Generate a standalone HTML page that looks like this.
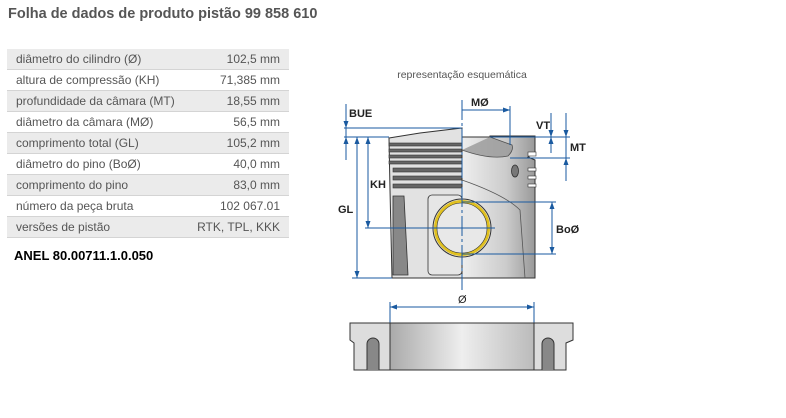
<!DOCTYPE html>
<html><head><meta charset="utf-8"><style>
body{margin:0;width:786px;height:418px;background:#fff;font-family:"Liberation Sans",Arial,sans-serif;position:relative;overflow:hidden}
h1{position:absolute;left:8px;top:6px;margin:0;font-size:14.5px;font-weight:bold;color:#555}
table{position:absolute;left:7px;top:49px;width:282px;border-collapse:collapse;font-size:12px;color:#555}
td{height:20px;padding:0 9px;border-bottom:1px solid #d4d4d4;white-space:nowrap}
td+td{text-align:right}
tr:nth-child(odd){background:#ebebeb}
.anel{position:absolute;left:14px;top:248px;font-size:13px;font-weight:bold;color:#000}
svg{position:absolute;left:0;top:0}
</style></head><body>
<h1>Folha de dados de produto pistão 99 858 610</h1>
<table>
<tr><td>diâmetro do cilindro (Ø)</td><td>102,5 mm</td></tr>
<tr><td>altura de compressão (KH)</td><td>71,385 mm</td></tr>
<tr><td>profundidade da câmara (MT)</td><td>18,55 mm</td></tr>
<tr><td>diâmetro da câmara (MØ)</td><td>56,5 mm</td></tr>
<tr><td>comprimento total (GL)</td><td>105,2 mm</td></tr>
<tr><td>diâmetro do pino (BoØ)</td><td>40,0 mm</td></tr>
<tr><td>comprimento do pino</td><td>83,0 mm</td></tr>
<tr><td>número da peça bruta</td><td>102 067.01</td></tr>
<tr><td>versões de pistão</td><td>RTK, TPL, KKK</td></tr>
</table>
<div class="anel">ANEL 80.00711.1.0.050</div>
<svg width="786" height="418" viewBox="0 0 786 418">
<defs><linearGradient id="g" x1="0" x2="1"><stop offset="0" stop-color="#aaa"/><stop offset=".5" stop-color="#eee"/><stop offset="1" stop-color="#bbb"/></linearGradient>
<linearGradient id="r" x1="0" x2="1"><stop offset="0" stop-color="#eee"/><stop offset=".6" stop-color="#ccc"/><stop offset="1" stop-color="#999"/></linearGradient></defs>
<text x="462" y="78" font-size="10.5" fill="#555" text-anchor="middle">representação esquemática</text>
<!-- piston left half -->
<path d="M389 138 L420 133 L462 128 L462 278 L392 278 L390 190 L389 138Z" fill="#e2e2e2" stroke="#333" stroke-width="1"/>
<g fill="#666" stroke="#333" stroke-width=".6">
<rect x="389" y="143" width="73" height="3"/><rect x="389" y="149" width="73" height="3"/><rect x="389" y="155" width="73" height="3"/><rect x="389" y="161" width="73" height="3"/>
<rect x="393" y="168" width="69" height="4"/><rect x="393" y="176" width="69" height="4"/><rect x="393" y="184" width="69" height="4"/>
</g>
<path d="M393 196 L404 196 L408 275 L393 275Z" fill="#888" stroke="#333" stroke-width=".8"/>
<rect x="428" y="195" width="34" height="80" rx="4" fill="#e6e6e6" stroke="#333" stroke-width=".8"/>
<!-- right half -->
<path d="M462 137 L490 137 L490 136 L535 136 L535 153 L528 157 L535 160 L535 278 L462 278Z" fill="url(#r)" stroke="#333" stroke-width="1"/>
<path d="M462 150 Q490 160 508 156 Q514 150 512 145 L490 137" fill="#999" stroke="#333" stroke-width=".8" opacity=".8"/>
<path d="M462 180 Q505 195 520 210 L525 278" fill="none" stroke="#555" stroke-width=".8"/>
<ellipse cx="515" cy="171" rx="3.5" ry="6" fill="#777" stroke="#333" stroke-width=".8"/>
<rect x="528" y="152" width="8" height="4" fill="#fff" stroke="#333" stroke-width=".6"/>
<rect x="528" y="168" width="8" height="3" fill="#fff" stroke="#333" stroke-width=".6"/>
<rect x="528" y="176" width="8" height="3" fill="#fff" stroke="#333" stroke-width=".6"/>
<rect x="528" y="184" width="8" height="3" fill="#fff" stroke="#333" stroke-width=".6"/>
<!-- pin -->
<circle cx="462" cy="228" r="29" fill="#e8e8e8" stroke="#333" stroke-width="1"/>
<circle cx="462" cy="228" r="26.5" fill="none" stroke="#e0c020" stroke-width="3"/>
<circle cx="462" cy="228" r="25" fill="none" stroke="#333" stroke-width=".6"/>
<!-- dims -->
<g stroke="#1a5aa0" stroke-width="1" fill="none">
<line x1="462" y1="100" x2="462" y2="290" stroke-dasharray="20 3 3 3"/>
<line x1="344" y1="128" x2="462" y2="128"/><line x1="344" y1="137" x2="389" y2="137"/>
<line x1="346" y1="104" x2="346" y2="160"/>
<line x1="357" y1="137" x2="357" y2="278"/><line x1="352" y1="278" x2="392" y2="278"/>
<line x1="368" y1="137" x2="368" y2="228"/><line x1="365" y1="228" x2="495" y2="228"/>
<line x1="462" y1="110" x2="510" y2="110"/><line x1="510" y1="106" x2="510" y2="145"/>
<line x1="490" y1="137" x2="570" y2="137"/><line x1="510" y1="158" x2="570" y2="158"/>
<line x1="551" y1="113" x2="551" y2="153"/><line x1="566" y1="113" x2="566" y2="181"/>
<line x1="462" y1="202" x2="556" y2="202"/><line x1="462" y1="254" x2="556" y2="254"/>
<line x1="552" y1="202" x2="552" y2="254"/>
<line x1="390" y1="302" x2="390" y2="325"/><line x1="534" y1="302" x2="534" y2="325"/>
<line x1="390" y1="307" x2="534" y2="307"/>
</g>
<g fill="#1a5aa0">
<path d="M346 128 l-2.5 -7 h5Z"/><path d="M346 137 l-2.5 7 h5Z"/>
<path d="M357 137 l-2.5 7 h5Z"/><path d="M357 278 l-2.5 -7 h5Z"/>
<path d="M368 137 l-2.5 7 h5Z"/><path d="M368 228 l-2.5 -7 h5Z"/>
<path d="M510 110 l-7 -2.5 v5Z"/>
<path d="M551 137 l-2.5 -7 h5Z"/><path d="M551 137 l-2.5 7 h5Z"/>
<path d="M566 137 l-2.5 -7 h5Z"/><path d="M566 158 l-2.5 7 h5Z"/>
<path d="M552 202 l-2.5 7 h5Z"/><path d="M552 254 l-2.5 -7 h5Z"/>
<path d="M390 307 l7 -2.5 v5Z"/><path d="M534 307 l-7 -2.5 v5Z"/>
</g>
<g font-size="11" font-weight="bold" fill="#222">
<text x="349" y="117">BUE</text><text x="471" y="106">MØ</text>
<text x="536" y="129">VT</text><text x="570" y="151">MT</text>
<text x="370" y="188">KH</text><text x="338" y="213">GL</text>
<text x="556" y="233">BoØ</text><text x="458" y="303" font-weight="normal">Ø</text>
</g>
<!-- bottom -->
<path d="M350 323 L573 323 L573 340 L566 343 L566 370 L354 370 L354 343 L350 340Z" fill="#ddd" stroke="#333"/>
<rect x="390" y="323" width="144" height="47" fill="url(#g)" stroke="#333"/>
<path d="M367 370 V344 a6 6 0 0 1 12 0 V370" fill="#888" stroke="#333"/>
<path d="M542 370 V344 a6 6 0 0 1 12 0 V370" fill="#888" stroke="#333"/>
</svg>
</body></html>
